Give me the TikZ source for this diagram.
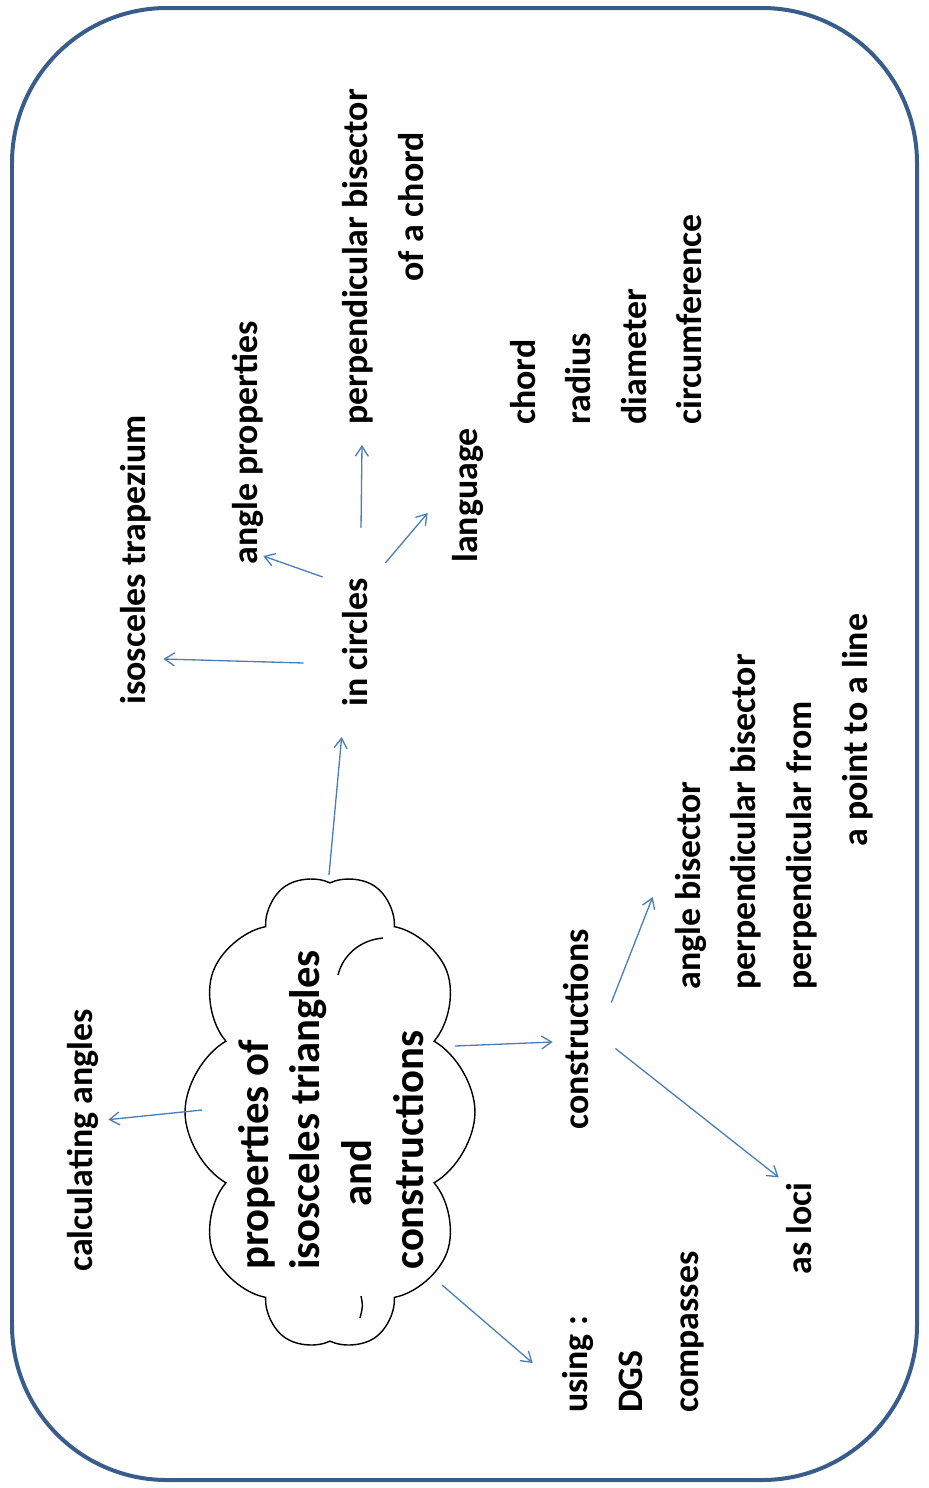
\documentclass[tikz,border=0pt]{standalone}
\usepackage{fontspec}
\setmainfont{Carlito}
\usetikzlibrary{shapes.symbols,arrows.meta,calc}

\definecolor{framecol}{RGB}{56,93,138}
\definecolor{linkcol}{RGB}{74,126,187}

\newcommand{\ideafont}{\fontsize{20.4}{31.5}\selectfont\bfseries}
\newcommand{\topicfont}{\fontsize{24.3}{29.5}\selectfont\bfseries}

\tikzset{
  idea/.style={rotate=90, anchor=base west, inner sep=0pt,
    text height=0.54cm, text depth=0.18cm, font=\ideafont},
  link/.style={draw=linkcol, line width=0.75pt,
    -{Straight Barb[length=2mm,width=2.6mm]}},
}

\begin{document}
\begin{tikzpicture}[x=0.02cm, y=-0.02cm]
    \useasboundingbox (0,0) rectangle (929,1488);
    % slide frame
    \draw[framecol, line width=0.08cm, rounded corners=3.1cm] (12,8) rectangle (917,1480);

    % central topic
    \node[cloud, draw, line width=0.8pt, cloud puffs=10, cloud puff arc=120,
      cloud ignores aspect, minimum width=9.5cm, minimum height=5.8cm, rotate=90]
      (cloud) at (330,1112) {};
    % inner puff strokes
    \draw[line width=0.8pt] ($(cloud.center)+(8,-137)$) .. controls ($(cloud.center)+(13,-157)$) and ($(cloud.center)+(30,-172)$) .. ($(cloud.center)+(53,-174)$);
    \draw[line width=0.8pt] ($(cloud.center)+(31,184)$) .. controls ($(cloud.center)+(33,194)$) .. ($(cloud.center)+(30,206)$);
    \node[rotate=90, anchor=west, align=left, inner sep=0pt, font=\topicfont]
      (topic) at (331,1270) {properties of\\isosceles triangles\\\hspace*{1.47em}and\\constructions};

    % branches
    \node[idea] (calc) at (92,1272) {calculating angles};
    \node[idea] (circles) at (367,707) {in circles};
    \node[idea] (trap) at (145,705) {isosceles trapezium};
    \node[idea] (props) at (257,565) {angle properties};
    \node[idea] (lang) at (477,563) {language};
    \node[idea] (perp) at (367,425) {perpendicular bisector};
    \node[idea] (chordof) at (423,282) {of a chord};
    \foreach \t [count=\i] in {chord,radius,diameter,circumference}
        \node[idea] (term\i) at ({479.5+55.5*\i},425) {\t};

    \node[idea] (cons) at (588,1130) {constructions};
    \node[idea] (bisect) at (700,990) {angle bisector};
    \node[idea] (perpb) at (755,990) {perpendicular bisector};
    \node[idea] (perpf) at (811,990) {perpendicular from};
    \node[idea] (ptline) at (867,847) {a point to a line};
    \node[idea] (loci) at (811,1275) {as loci};

    \foreach \t [count=\i] in {using :,DGS,compasses}
        \node[idea] (tool\i) at ({531.5+55.5*\i},1413) {\t};

    % arrows
    \draw[link] ($(cloud.center)+(-128,-2)$) -- ($(calc.south)+(7,-21)$);
    \draw[link] ($(cloud.center)+(-1,-237)$) -- ($(circles.north west)+(2,30)$);
    \draw[link] ($(circles.north west)+(-36,-44)$) -- ($(trap.south west)+(9,-46)$);
    \draw[link] ($(circles.north east)+(-17,-1)$) -- ($(props.south west)+(-3,-9)$);
    \draw[link] ($(circles.east)+(3,-50)$) -- ($(perp.west)+(4,20)$);
    \draw[link] ($(circles.south east)+(9,-15)$) -- ($(lang.north west)+(-22,-50)$);
    \draw[link] ($(cloud.center)+(125,-66)$) -- ($(cons.north west)+(-8,-88)$);
    \draw[link] ($(cons.south)+(14,-27)$) -- ($(bisect.north west)+(-20,-93)$);
    \draw[link] ($(cons.south)+(18,19)$) -- ($(loci.north east)+(-5,-5)$);
    \draw[link] ($(cloud.center)+(112,173)$) -- ($(tool1.north west)+(-27,-50)$);
\end{tikzpicture}
\end{document}
